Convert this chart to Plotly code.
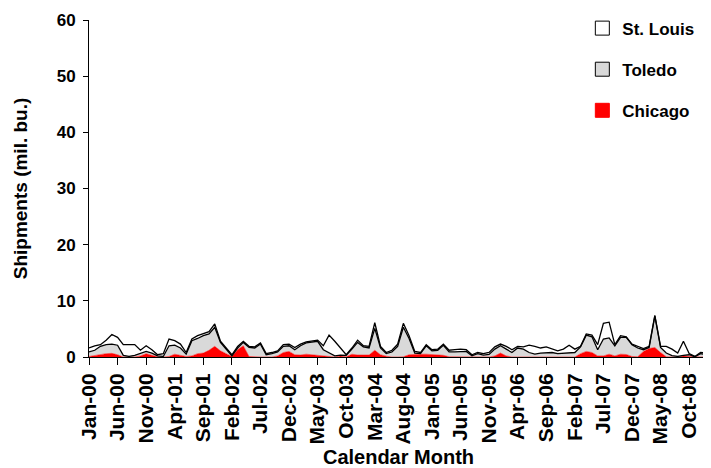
import plotly.graph_objects as go

MONTH_NAMES = ["Jan", "Feb", "Mar", "Apr", "May", "Jun", "Jul", "Aug", "Sep", "Oct", "Nov", "Dec"]
# Calendar months Jan-00 .. Jan-09
months = [f"{MONTH_NAMES[m]}-{y:02d}" for y in range(0, 9) for m in range(12)] + ["Jan-09"]

tick_labels = ["Jan-00", "Jun-00", "Nov-00", "Apr-01", "Sep-01", "Feb-02", "Jul-02", "Dec-02",
               "May-03", "Oct-03", "Mar-04", "Aug-04", "Jan-05", "Jun-05", "Nov-05", "Apr-06",
               "Sep-06", "Feb-07", "Jul-07", "Dec-07", "May-08", "Oct-08"]

y_ticks = [0, 10, 20, 30, 40, 50, 60]

chicago = [0.1, 0.3, 0.5, 0.6, 0.65, 0.4, 0, 0, 0, 0.2,
           0.6, 0.3, 0.05, 0, 0.1, 0.5, 0.3, 0.1, 0.2, 0.6,
           0.7, 1.2, 1.9, 1.1, 0.6, 0.1, 1.3, 2.0, 0.1, 0,
           0, 0, 0, 0.2, 0.8, 1.0, 0.4, 0.35, 0.5, 0.4,
           0.3, 0.15, 0.1, 0, 0.2, 0.05, 0.5, 0.35, 0.35, 0.35,
           1.2, 0.4, 0.15, 0, 0, 0.05, 0.4, 0.5, 0.5, 0.5,
           0.4, 0.35, 0.3, 0.05, 0.05, 0, 0, 0, 0, 0,
           0, 0.2, 0.7, 0.2, 0, 0, 0, 0, 0, 0,
           0, 0, 0, 0, 0, 0, 0.6, 1.0, 0.8, 0.2,
           0.2, 0.5, 0.2, 0.5, 0.45, 0.1, 0.05, 1.0, 1.5, 1.7,
           0.8, 0.05, 0, 0, 0.2, 0.1, 0, 0, 0]

toledo = [0.8, 0.9, 1.4, 1.6, 1.65, 1.7, 0.3, 0.1, 0.3, 0.5,
          0.4, 0.4, 0.15, 0.1, 1.9, 1.6, 1.3, 0.4, 2.7, 2.7,
          3.1, 2.9, 3.4, 1.5, 0.7, 0.1, 0.3, 0.6, 1.6, 1.6,
          2.3, 0.4, 0.6, 0.7, 1.1, 1.0, 0.9, 1.65, 2.0, 2.2,
          2.5, 1.15, 0.6, 0.2, 0.15, 0.25, 0.9, 2.25, 1.45, 1.25,
          3.9, 1.2, 0.45, 0.9, 1.9, 5.25, 2.9, 0.2, 0.1, 1.5,
          0.7, 0.85, 1.8, 0.85, 0.85, 1.0, 1.0, 0.2, 0.6, 0.35,
          0.45, 1.2, 1.3, 1.2, 0.8, 1.6, 1.4, 0.8, 0.5, 0.7,
          0.8, 0.8, 0.6, 0.7, 0.8, 0.8, 1.2, 2.9, 2.8, 1.1,
          3.0, 2.9, 1.8, 3.0, 3.05, 2.1, 1.55, 0.3, 0.2, 5.6,
          0.9, 0.65, 0.25, 0.1, 0.1, 0.3, 0.05, 0.6, 0.4]

st_louis = [0.7, 0.8, 0.3, 0.8, 1.7, 1.4, 1.9, 2.1, 1.9, 0.5,
            1.0, 0.6, 0.2, 0.5, 1.2, 0.8, 0.7, 0.3, 0.3, 0.5,
            0.3, 0.4, 0.6, 0.2, 0.3, 0.2, 0.3, 0.2, 0.2, 0.2,
            0.2, 0.2, 0.2, 0.2, 0.3, 0.3, 0.4, 0.3, 0.2, 0.2,
            0.2, 0.7, 3.2, 2.6, 1.25, 0.1, 0.2, 0.4, 0.2, 0.3,
            1.0, 0.3, 0.2, 0.3, 0.4, 0.7, 0.5, 0.3, 0.2, 0.2,
            0.2, 0.2, 0.2, 0.3, 0.4, 0.4, 0.3, 0.2, 0.2, 0.25,
            0.35, 0.4, 0.3, 0.5, 0.5, 0.3, 0.4, 1.3, 1.4, 0.9,
            1.0, 0.7, 0.5, 0.7, 1.3, 0.6, 0.1, 0.2, 0.3, 0.9,
            2.8, 2.8, 0.2, 0.3, 0.1, 0.1, 0.3, 0.2, 0.2, 0.1,
            0.2, 1.2, 1.15, 0.6, 2.5, 0.2, 0.05, 0.2, 0.3]

FONT = "Arial, 'Liberation Sans', sans-serif"

fig = go.Figure()
fig.add_trace(go.Scatter(x=months, y=chicago, name="Chicago", stackgroup="one", mode="lines",
                         line=dict(color="#ff0000", width=0.5), fillcolor="#ff0000",
                         showlegend=False))
fig.add_trace(go.Scatter(x=months, y=toledo, name="Toledo", stackgroup="one", mode="lines",
                         line=dict(color="#000000", width=1.3), fillcolor="#d9d9d9",
                         showlegend=False))
fig.add_trace(go.Scatter(x=months, y=st_louis, name="St. Louis", stackgroup="one", mode="lines",
                         line=dict(color="#000000", width=1.3), fillcolor="#ffffff",
                         showlegend=False))

# legend entries drawn as square swatches
legend_entries = [("St. Louis", "#ffffff", "#000000", 1),
                  ("Toledo", "#d9d9d9", "#000000", 2),
                  ("Chicago", "#ff0000", "#ff0000", 3)]
for name, fillc, edge, rank in legend_entries:
    fig.add_trace(go.Scatter(x=[None], y=[None], name=name, mode="markers",
                             marker=dict(symbol="square", size=14, color=fillc,
                                         line=dict(color=edge, width=1)),
                             legendgroup=name, legendrank=rank, showlegend=True))

# the page body adds an 8px offset, so the figure is sized 8px smaller
fig.update_layout(
    width=703, height=460,
    margin=dict(l=81, r=3, t=8, b=111),
    paper_bgcolor="white", plot_bgcolor="white",
    font=dict(family=FONT, color="black"),
    showlegend=True,
    legend=dict(x=0.797, y=1.028, xanchor="left", yanchor="top",
                traceorder="grouped", tracegroupgap=16, itemwidth=30,
                font=dict(size=17, weight="bold", family=FONT),
                bgcolor="rgba(0,0,0,0)"),
    xaxis=dict(
        type="category", range=[0, 108.3], automargin=False,
        tickmode="array", tickvals=tick_labels, ticktext=tick_labels,
        tickangle=-90, tickfont=dict(size=21, weight="bold", family=FONT),
        ticks="outside", ticklen=7, tickcolor="black",
        showline=True, linecolor="black", linewidth=1,
        showgrid=False, zeroline=False,
        title=dict(text="Calendar Month", font=dict(size=20, weight="bold", family=FONT), standoff=6),
    ),
    yaxis=dict(
        range=[0, 60], tickvals=y_ticks, automargin=False,
        tickfont=dict(size=17, weight="bold", family=FONT),
        ticks="outside", ticklen=5, tickcolor="black", ticklabelstandoff=4,
        showline=True, linecolor="black", linewidth=1,
        showgrid=False, zeroline=False,
        title=dict(text="Shipments (mil. bu.)", font=dict(size=19, weight="bold", family=FONT), standoff=24),
    ),
)

fig.write_html("out.html")
